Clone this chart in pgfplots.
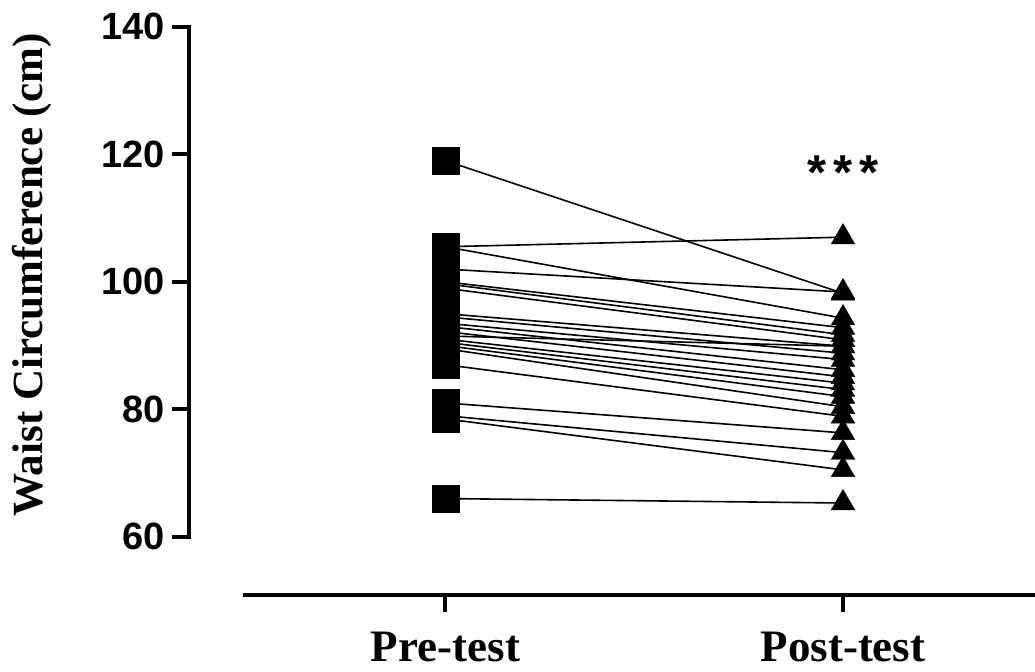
\documentclass[border=0pt]{standalone}
\usepackage{pgfplots}
\usepackage{pgfplotstable}
\pgfplotsset{compat=1.18}
\usepackage{fontspec}
\setmainfont{Liberation Serif}
\newfontfamily\arial{Liberation Sans}

\pgfplotstableread{
pre post
119.0 98.2
105.5 107.0
105.5 94.3
102.0 98.4
100.0 92.8
99.7 91.7
99.0 90.9
95.0 89.9
94.5 88.8
93.5 87.8
93.0 86.2
92.2 85.1
91.5 89.9
91.0 84.1
90.5 83.1
90.0 82.0
89.5 80.4
87.0 78.9
81.0 76.3
79.0 73.2
78.5 70.5
66.0 65.3
}\data

\begin{document}
\begin{tikzpicture}
\useasboundingbox (-94.5pt,-67.1pt) rectangle (423pt,268.4pt);
\begin{axis}[
  at={(0,0)}, anchor=south west,
  scale only axis,
  width=423pt, height=255pt,
  xmin=-0.6453, xmax=1.483,
  ymin=60, ymax=140,
  enlargelimits=false,
  clip=false,
  axis x line=none,
  axis y line*=left,
  axis line style={-, line width=2pt, line cap=rect},
  ytick={60,80,100,120,140},
  tick align=outside,
  major tick length=8.5pt,
  every tick/.style={black, line width=2pt},
  yticklabel style={font=\arial\bfseries\fontsize{19}{21}\selectfont, /pgf/number format/assume math mode=true},
  ylabel={Waist Circumference (cm)},
  ylabel style={font=\bfseries\fontsize{21.5}{24}\selectfont, at={(axis description cs:-0.186,0.513)}, anchor=center},
]
\foreach \i in {0,...,21}{
  \pgfplotstablegetelem{\i}{pre}\of{\data}\let\a\pgfplotsretval
  \pgfplotstablegetelem{\i}{post}\of{\data}\let\b\pgfplotsretval
  \edef\tmp{\noexpand\addplot[black, line width=0.8pt, mark=none, forget plot] coordinates {(0,\a) (1,\b)};}
  \tmp
}
\addplot[only marks, mark=square*, mark size=6.9pt, black, mark options={fill=black, line width=0.2pt}] table[x expr=0, y=pre] {\data};
\addplot[only marks, mark=triangle*, mark size=6.8pt, black, mark options={fill=black, line width=0.2pt}] table[x expr=1, y=post] {\data};
\node[font=\arial\bfseries\fontsize{24.5}{26}\selectfont] at (axis cs:1,117.1) {*\hspace{3.5pt}*\hspace{3.5pt}*};
\end{axis}
\begin{axis}[
  at={(27pt,-29.1pt)}, anchor=south west,
  scale only axis,
  width=396pt, height=1pt,
  xmin=-0.5094, xmax=1.483,
  ymin=0, ymax=1,
  enlargelimits=false,
  axis y line=none,
  axis x line*=bottom,
  axis line style={-, line width=2pt},
  xtick={0,1},
  xticklabels={Pre-test,Post-test},
  tick align=outside,
  major tick length=8.5pt,
  every tick/.style={black, line width=2pt},
  xticklabel style={font=\bfseries\fontsize{22.5}{25}\selectfont, inner sep=0pt, yshift=-10pt},
]
\end{axis}
\end{tikzpicture}
\end{document}
